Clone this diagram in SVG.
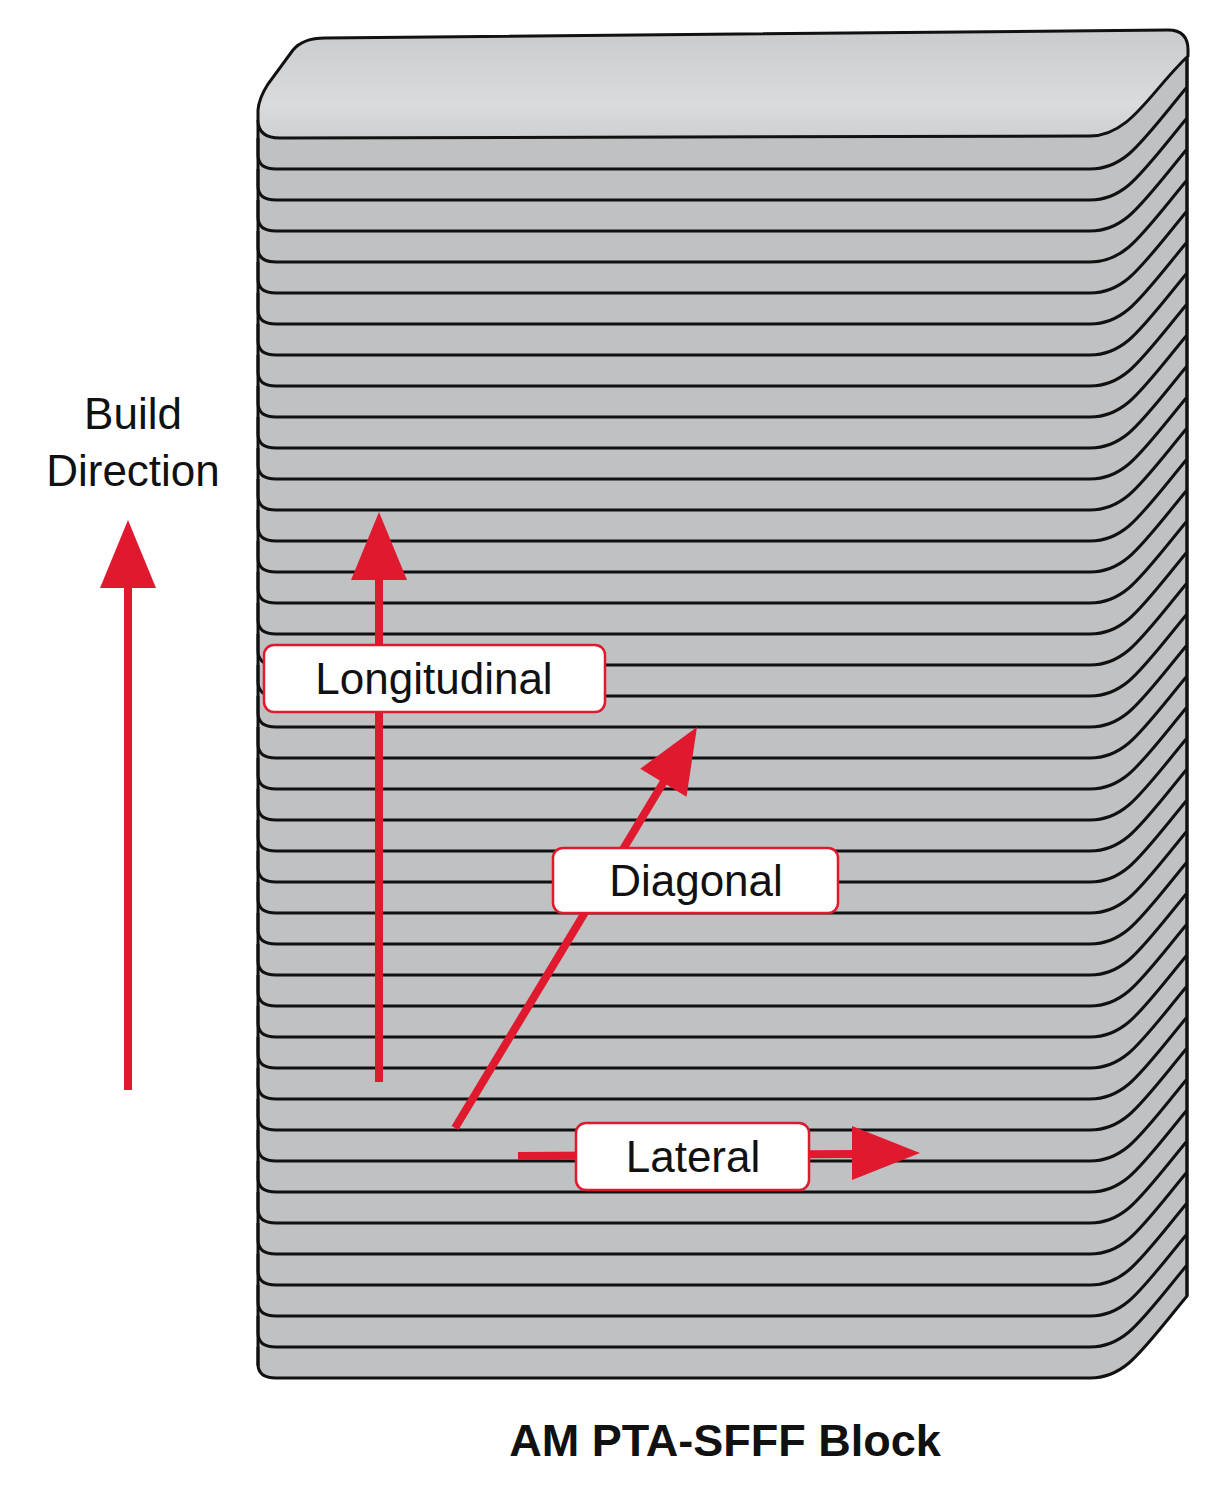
<svg xmlns="http://www.w3.org/2000/svg" xmlns:xlink="http://www.w3.org/1999/xlink" width="1218" height="1506" viewBox="0 0 1218 1506">
<style>
.lf{fill:#bfc1c3;stroke:none}
.ls{fill:none;stroke:#111;stroke-width:3}
.r{fill:#e0192e}
.rs{stroke:#e0192e;stroke-width:8;fill:none}
.box{fill:#fff;stroke:#e0192e;stroke-width:2.5}
.t{font-family:"Liberation Sans",Arial,sans-serif;font-size:44px;fill:#111;text-anchor:middle}
</style>
<defs>
<linearGradient id="top" x1="0" y1="0" x2="0" y2="1">
<stop offset="0" stop-color="#c9cbcd"/><stop offset="0.7" stop-color="#d9dbdd"/><stop offset="1" stop-color="#cdcfd1"/>
</linearGradient>
<g id="L">
<path class="lf" d="M258,-46 L258,-14 Q258,0 276,0 L1090,0 C1125,0 1140,-25 1187,-82 L1187,-122 Z"/>
<path class="ls" d="M258,-31 L258,-14 Q258,0 276,0 L1090,0 C1125,0 1140,-25 1187,-82 L1187,-112"/>
</g>
</defs>
<g id="block">
<use xlink:href="#L" y="1378"/><use xlink:href="#L" y="1347"/><use xlink:href="#L" y="1316"/><use xlink:href="#L" y="1285"/><use xlink:href="#L" y="1254"/>
<use xlink:href="#L" y="1223"/><use xlink:href="#L" y="1192"/><use xlink:href="#L" y="1161"/><use xlink:href="#L" y="1130"/><use xlink:href="#L" y="1099"/>
<use xlink:href="#L" y="1068"/><use xlink:href="#L" y="1037"/><use xlink:href="#L" y="1006"/><use xlink:href="#L" y="975"/><use xlink:href="#L" y="944"/>
<use xlink:href="#L" y="913"/><use xlink:href="#L" y="882"/><use xlink:href="#L" y="851"/><use xlink:href="#L" y="820"/><use xlink:href="#L" y="789"/>
<use xlink:href="#L" y="758"/><use xlink:href="#L" y="727"/><use xlink:href="#L" y="696"/><use xlink:href="#L" y="665"/><use xlink:href="#L" y="634"/>
<use xlink:href="#L" y="603"/><use xlink:href="#L" y="572"/><use xlink:href="#L" y="541"/><use xlink:href="#L" y="510"/><use xlink:href="#L" y="479"/>
<use xlink:href="#L" y="448"/><use xlink:href="#L" y="417"/><use xlink:href="#L" y="386"/><use xlink:href="#L" y="355"/><use xlink:href="#L" y="324"/>
<use xlink:href="#L" y="293"/><use xlink:href="#L" y="262"/><use xlink:href="#L" y="231"/><use xlink:href="#L" y="200"/><use xlink:href="#L" y="169"/>
<line x1="258" y1="120" x2="258" y2="1366" stroke="#111" stroke-width="3"/>
<line x1="1187" y1="50" x2="1187" y2="1296" stroke="#111" stroke-width="3"/>
<path d="M258,120 L258,110 Q259,98 268,84 L293,50 Q303,38 325,38 L1168,30 Q1188,30 1188,50 L1188,56 C1150,92 1130,136 1090,136 L280,138 Q258,138 258,120 Z" fill="url(#top)" stroke="#111" stroke-width="3"/>
</g>
<g id="build">
<text class="t" x="133" y="429">Build</text>
<text class="t" x="133" y="486">Direction</text>
<line class="rs" x1="128" y1="1090" x2="128" y2="580"/>
<polygon class="r" points="128,520 156,588 100,588"/>
</g>
<g id="connectors">
<line class="rs" x1="379" y1="1082" x2="379" y2="572"/>
<polygon class="r" points="379,512 407,580 351,580"/>
<line class="rs" x1="455" y1="1128" x2="666" y2="778"/>
<polygon class="r" points="697,727 686.5,796.7 640.3,768.7"/>
<line class="rs" x1="518" y1="1156" x2="858" y2="1154"/>
<polygon class="r" points="920,1153 852,1126 852,1180"/>
</g>
<g id="longitudinal">
<rect class="box" x="264" y="645" width="341" height="67" rx="10"/>
<text class="t" x="434" y="694">Longitudinal</text>
</g>
<g id="diagonal">
<rect class="box" x="553" y="848" width="285" height="65" rx="10"/>
<text class="t" x="696" y="896">Diagonal</text>
</g>
<g id="lateral">
<rect class="box" x="576" y="1123" width="233" height="67" rx="10"/>
<text class="t" x="693" y="1172">Lateral</text>
</g>
<text x="725" y="1456" style="font-family:'Liberation Sans',Arial,sans-serif;font-size:45px;font-weight:bold;fill:#111;text-anchor:middle">AM PTA-SFFF Block</text>
</svg>
